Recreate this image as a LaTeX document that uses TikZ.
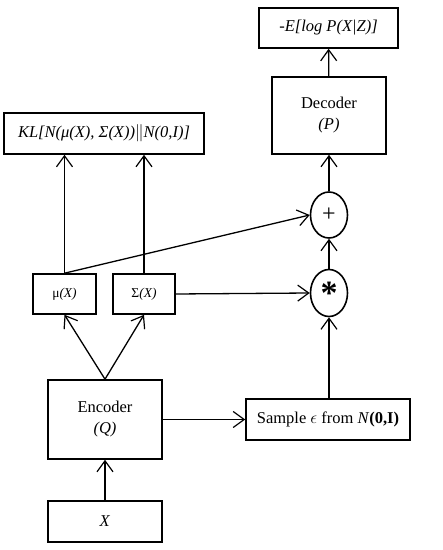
\documentclass[tikz,border=0pt]{standalone}
\usepackage{fontspec}
\setmainfont{Liberation Serif}
\usetikzlibrary{arrows.meta,positioning,shapes.geometric}

\begin{document}
\begin{tikzpicture}[
  x=1pt, y=1pt,
  font=\fontsize{16.5}{19}\selectfont,
  box/.style = {draw, line width=1.6pt, inner sep=2pt},
  op/.style  = {draw, ellipse, line width=1.6pt, inner sep=0pt,
                minimum width=37pt, minimum height=47pt},
  ln/.style  = {-{Straight Barb[length=11pt, width=16pt, line width=1.2pt]}, line width=1.3pt},
  small/.style = {font=\fontsize{13.5}{16}\selectfont},
]
\useasboundingbox (0,0) rectangle (443,550);

% --- encoder side ---------------------------------------------------------------------
\node[box, minimum width=114pt, minimum height=41pt] (x)   at (105,28.5)  {\textit{X}};
\node[box, minimum width=114pt, minimum height=79pt, align=center] (enc) at (105,130.5)
  {Encoder\\[2pt]\textit{(Q)}};
\node[box, small, minimum width=63pt, minimum height=40pt] (mu)  at (64.5,256)  {μ\textit{(X)}};
\node[box, small, minimum width=62pt, minimum height=40pt] (sig) at (144,256)   {Σ\textit{(X)}};
\node[box, minimum width=200pt, minimum height=41pt] (kl) at (104,416.5)
  {\textit{KL[N(μ(X), Σ(X))}$\|$\textit{N(0,I)]}};

% --- sampling and decoder side --------------------------------------------------------
\node[box, minimum width=164pt, minimum height=41pt] (samp) at (328,130.5)
  {Sample $\epsilon$ from \textit{N}\textbf{(0,I)}};
\node[op] (star) at (329,257) {\fontsize{34}{34}\selectfont\textbf{*}};
\node[op, minimum height=46pt] (plus) at (329,335) {\fontsize{24}{24}\selectfont +};
\node[box, minimum width=114pt, minimum height=77pt, align=center] (dec) at (329,434.5)
  {Decoder\\[2pt]\textit{(P)}};
\node[box, minimum width=139pt, minimum height=40pt] (loss) at (328.5,522)
  {\textit{-E[log P(X|Z)]}};

% --- connectors -----------------------------------------------------------------------
\draw[ln] (x) -- (enc);
\draw[ln] (enc.north) -- (mu.south);
\draw[ln] (enc.north) -- (sig.south);
\draw[ln] (mu.north) -- (mu.north |- kl.south);
\draw[ln] (sig.north) -- (sig.north |- kl.south);
\draw[ln] (enc.east |- samp) -- (samp.west);
\draw[ln] (mu.north) -- (plus.west);
\draw[ln] (sig.east) -- (star.west);
\draw[ln] (samp.north -| star) -- (star.south);
\draw[ln] (star) -- (plus);
\draw[ln] (plus) -- (dec);
\draw[ln] (dec) -- (loss);

\end{tikzpicture}
\end{document}
